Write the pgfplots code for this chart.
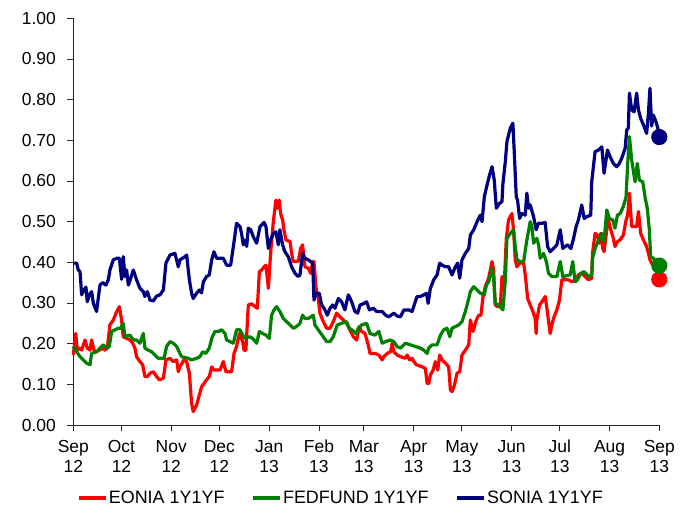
\documentclass[border=0pt]{standalone}
\usepackage{pgfplots}
\usepackage{pgfplotstable}
\pgfplotsset{compat=1.18}
\usepackage{fontspec}
\setmainfont{Liberation Sans}
\definecolor{eoniacol}{RGB}{255,0,0}
\definecolor{fedcol}{RGB}{0,128,0}
\definecolor{soniacol}{RGB}{0,0,128}

\pgfplotstableread{
day val
0 0.172
1.5 0.225
2.5 0.184
4.2 0.189
5.2 0.184
7.3 0.209
8.7 0.189
10.4 0.184
11.4 0.209
12.9 0.184
14.1 0.180
16.2 0.184
18.7 0.189
19.7 0.184
21.2 0.189
22.8 0.246
24.9 0.258
26.6 0.275
28.7 0.291
30.1 0.258
31.1 0.217
33.2 0.213
35.3 0.209
37.0 0.201
38.4 0.189
39.4 0.168
41.5 0.156
43.2 0.148
44.6 0.119
46.1 0.119
47.8 0.127
49.8 0.131
51.9 0.119
53.6 0.111
56.1 0.115
57.7 0.160
60.2 0.164
62.3 0.156
64.4 0.160
65.4 0.131
66.4 0.143
68.9 0.160
70.6 0.156
72.3 0.127
73.7 0.053
74.7 0.033
76.8 0.049
78.5 0.074
79.9 0.094
81.4 0.102
83.0 0.111
84.7 0.119
86.2 0.143
87.6 0.135
91.4 0.135
93.4 0.156
95.1 0.131
98.6 0.131
100.1 0.176
101.7 0.193
103.4 0.225
105.5 0.205
106.3 0.184
107.5 0.184
109.0 0.295
111.1 0.298
113.2 0.291
114.6 0.287
115.9 0.377
117.3 0.381
118.8 0.389
120.0 0.393
121.5 0.336
122.9 0.422
124.6 0.500
126.2 0.553
127.1 0.533
128.3 0.553
129.1 0.520
130.4 0.504
131.2 0.480
132.5 0.455
135.0 0.451
136.0 0.422
137.0 0.402
140.1 0.402
141.6 0.434
142.8 0.443
144.3 0.389
146.4 0.385
147.8 0.373
149.1 0.402
149.9 0.402
151.1 0.340
152.6 0.311
153.6 0.275
155.7 0.254
157.8 0.238
159.9 0.238
161.9 0.254
164.0 0.275
166.1 0.266
168.2 0.258
170.2 0.250
172.3 0.234
174.4 0.217
176.5 0.209
178.1 0.242
179.6 0.230
181.7 0.225
183.7 0.197
184.8 0.176
187.9 0.176
190.3 0.172
192.4 0.160
193.4 0.168
195.5 0.176
197.6 0.180
198.6 0.201
199.6 0.180
201.7 0.172
203.8 0.168
206.9 0.164
207.9 0.172
209.6 0.160
211.0 0.164
212.1 0.156
213.7 0.148
217.3 0.143
219.3 0.139
220.4 0.102
221.4 0.102
222.4 0.123
224.1 0.135
225.5 0.156
227.0 0.135
228.2 0.172
229.7 0.160
231.8 0.152
233.8 0.143
234.9 0.086
235.9 0.082
237.4 0.098
239.0 0.127
240.7 0.131
242.1 0.172
244.2 0.184
246.3 0.197
247.3 0.258
249.0 0.230
251.0 0.258
252.5 0.270
253.9 0.270
255.2 0.316
256.6 0.340
258.7 0.361
260.8 0.402
261.8 0.381
262.8 0.295
264.3 0.291
266.0 0.291
267.0 0.365
268.4 0.344
269.7 0.459
271.1 0.504
273.2 0.520
274.2 0.480
275.3 0.406
276.3 0.389
278.0 0.398
280.5 0.398
281.5 0.369
283.0 0.311
284.6 0.295
286.3 0.279
287.7 0.262
288.3 0.225
288.7 0.258
290.4 0.295
291.9 0.303
293.9 0.316
295.0 0.287
297.0 0.225
298.1 0.246
299.1 0.262
301.2 0.283
302.8 0.307
304.3 0.357
308.4 0.357
310.5 0.352
312.6 0.357
314.6 0.369
316.7 0.373
318.8 0.365
320.9 0.357
322.9 0.361
323.4 0.422
325.0 0.471
326.5 0.467
327.7 0.447
328.5 0.471
329.8 0.434
330.6 0.426
332.3 0.480
333.3 0.504
334.8 0.480
336.4 0.459
337.4 0.439
338.9 0.451
340.6 0.455
342.6 0.467
344.3 0.504
345.3 0.516
346.4 0.570
347.8 0.488
350.9 0.488
352.0 0.525
353.4 0.471
355.1 0.455
357.1 0.439
358.2 0.422
359.2 0.406
360.9 0.393
362.3 0.389
364.4 0.373
365.0 0.358
}\eonia

\pgfplotstableread{
day val
0 0.193
2.1 0.180
4.2 0.168
6.2 0.160
8.3 0.152
10.4 0.148
11.4 0.176
14.5 0.180
16.6 0.189
18.7 0.197
20.8 0.189
22.4 0.193
23.9 0.230
26.0 0.234
28.0 0.238
29.5 0.238
31.1 0.250
32.2 0.217
35.3 0.221
37.4 0.209
39.4 0.209
41.5 0.201
43.6 0.225
44.6 0.189
46.7 0.184
48.8 0.180
50.9 0.172
52.9 0.164
56.5 0.164
58.1 0.193
60.2 0.205
62.3 0.201
64.4 0.193
66.4 0.176
67.5 0.168
71.6 0.164
73.7 0.160
76.8 0.164
78.9 0.168
80.6 0.180
82.6 0.176
84.7 0.189
86.2 0.213
88.2 0.230
90.3 0.230
92.4 0.234
94.5 0.225
95.5 0.209
97.6 0.205
99.7 0.201
101.7 0.234
103.8 0.234
105.5 0.221
106.9 0.213
110.0 0.217
111.7 0.213
114.2 0.201
115.9 0.230
117.9 0.225
120.0 0.221
122.1 0.213
123.5 0.270
125.0 0.283
126.6 0.291
128.7 0.279
130.8 0.262
132.9 0.254
135.0 0.246
137.0 0.238
139.1 0.242
141.2 0.250
142.8 0.270
144.3 0.262
146.4 0.262
149.5 0.270
150.5 0.246
152.6 0.234
155.7 0.217
157.8 0.205
159.9 0.205
161.9 0.217
164.4 0.246
167.1 0.250
170.2 0.254
171.9 0.238
173.4 0.234
176.1 0.225
177.5 0.238
179.6 0.246
182.7 0.250
183.7 0.238
184.8 0.225
187.9 0.221
190.3 0.230
192.4 0.201
194.5 0.205
197.6 0.209
199.6 0.205
201.7 0.193
203.8 0.189
206.9 0.201
210.0 0.197
213.1 0.193
216.2 0.189
218.3 0.184
220.4 0.176
221.4 0.189
223.5 0.197
226.6 0.197
228.7 0.221
230.7 0.234
232.8 0.238
234.5 0.217
235.9 0.238
238.0 0.242
240.1 0.246
242.1 0.254
244.2 0.279
246.3 0.311
247.3 0.328
249.4 0.340
251.5 0.332
253.5 0.324
256.0 0.320
257.3 0.344
258.7 0.352
260.8 0.385
261.8 0.361
262.8 0.299
264.9 0.295
267.6 0.283
269.1 0.357
270.1 0.459
272.2 0.471
274.2 0.480
275.3 0.439
276.3 0.406
278.4 0.402
280.5 0.402
282.5 0.455
284.6 0.500
285.6 0.488
286.7 0.447
288.7 0.459
289.8 0.443
290.8 0.410
292.9 0.422
294.6 0.402
296.0 0.373
298.1 0.365
301.2 0.365
303.3 0.402
304.9 0.365
309.5 0.369
311.1 0.402
312.6 0.352
314.0 0.357
316.1 0.373
318.2 0.377
320.9 0.365
322.9 0.369
323.4 0.410
325.0 0.434
327.1 0.455
329.2 0.471
330.6 0.451
332.3 0.529
333.9 0.508
336.0 0.504
337.4 0.484
338.9 0.516
340.6 0.520
342.6 0.537
344.3 0.561
345.3 0.643
346.4 0.709
347.8 0.652
349.9 0.598
351.3 0.643
352.6 0.602
354.7 0.598
356.1 0.561
357.5 0.533
358.8 0.480
359.6 0.414
361.3 0.410
363.3 0.398
365.0 0.392
}\fedfund

\pgfplotstableread{
day val
0 0.398
2.1 0.398
3.1 0.381
4.2 0.377
5.2 0.320
6.6 0.332
7.9 0.339
8.7 0.303
10.0 0.320
11.4 0.328
12.5 0.299
14.5 0.279
16.6 0.344
18.3 0.350
20.3 0.344
21.8 0.357
22.8 0.381
24.9 0.406
27.0 0.410
28.7 0.410
30.1 0.358
31.1 0.414
32.2 0.365
33.2 0.381
34.3 0.344
35.3 0.355
37.4 0.381
39.4 0.357
41.5 0.336
43.6 0.328
44.6 0.316
46.1 0.328
47.8 0.307
49.8 0.305
51.9 0.317
54.0 0.320
56.1 0.332
57.7 0.398
60.2 0.418
63.3 0.422
65.4 0.389
66.4 0.406
69.6 0.414
70.6 0.418
72.3 0.357
73.7 0.324
74.7 0.311
76.8 0.324
78.5 0.332
79.9 0.325
81.0 0.352
83.0 0.365
84.7 0.369
86.2 0.406
87.6 0.426
89.3 0.410
93.4 0.410
95.5 0.393
98.0 0.393
99.7 0.439
101.7 0.496
103.8 0.488
104.8 0.471
105.9 0.443
106.9 0.455
108.0 0.439
109.0 0.484
110.5 0.480
112.1 0.463
114.2 0.447
116.3 0.488
118.8 0.498
120.0 0.488
121.5 0.434
122.9 0.455
124.6 0.471
126.2 0.475
127.7 0.443
128.7 0.480
130.4 0.443
131.8 0.426
133.9 0.414
136.0 0.389
138.1 0.373
140.1 0.365
141.2 0.369
142.8 0.422
144.3 0.410
146.4 0.406
149.1 0.398
149.9 0.307
151.1 0.324
153.2 0.324
154.7 0.295
156.8 0.283
158.2 0.270
159.9 0.287
161.5 0.295
163.0 0.287
165.1 0.311
167.1 0.303
169.2 0.283
171.3 0.320
173.4 0.303
175.4 0.279
177.1 0.275
178.6 0.295
180.6 0.298
182.7 0.303
184.4 0.283
186.9 0.287
188.9 0.279
191.0 0.279
192.4 0.279
194.5 0.270
196.5 0.266
199.6 0.275
201.7 0.268
203.8 0.266
205.9 0.283
209.0 0.283
211.0 0.279
214.1 0.316
216.2 0.316
218.3 0.320
220.0 0.324
221.0 0.299
222.4 0.336
224.5 0.357
226.6 0.369
228.2 0.398
229.7 0.393
231.8 0.389
233.8 0.389
235.9 0.369
238.0 0.389
239.4 0.398
240.7 0.361
242.1 0.406
244.2 0.422
246.3 0.434
247.3 0.467
249.4 0.480
251.5 0.500
253.5 0.516
254.6 0.500
256.0 0.561
257.7 0.590
259.3 0.615
260.8 0.635
262.2 0.602
263.5 0.533
265.5 0.545
267.0 0.549
267.6 0.594
269.1 0.648
270.1 0.697
272.2 0.730
273.8 0.742
274.7 0.668
275.9 0.561
276.7 0.553
278.0 0.508
279.4 0.520
281.5 0.516
282.5 0.570
283.6 0.533
284.6 0.541
286.7 0.512
288.3 0.480
289.8 0.496
291.9 0.496
293.9 0.498
295.4 0.439
297.0 0.426
299.1 0.434
301.2 0.443
303.3 0.480
304.9 0.434
306.4 0.439
307.8 0.443
309.9 0.434
311.5 0.457
313.2 0.488
314.6 0.504
316.7 0.541
318.2 0.508
319.8 0.512
322.3 0.516
322.9 0.598
325.0 0.672
327.1 0.676
329.2 0.684
330.6 0.619
332.7 0.676
334.3 0.660
336.4 0.643
338.5 0.635
340.1 0.643
341.6 0.656
343.7 0.680
344.7 0.725
345.7 0.730
346.4 0.816
347.8 0.775
349.3 0.770
350.9 0.816
352.0 0.775
353.4 0.754
355.1 0.738
357.1 0.717
358.2 0.766
359.2 0.828
360.2 0.735
361.3 0.762
362.9 0.746
364.4 0.725
365.0 0.708
}\sonia

\begin{document}
\begin{tikzpicture}
\useasboundingbox (0bp,0bp) rectangle (681bp,510bp);
\begin{axis}[
  at={(73.3bp,85bp)}, anchor=south west,
  width=586bp, height=406.7bp, scale only axis,
  xmin=0, xmax=365, ymin=0, ymax=1,
  clip=false,
  axis lines=left,
  axis line style={-, draw=black!85, line width=0.8bp},
  tick style={draw=black!85, line width=0.8bp},
  tick align=outside,
  major tick length=6bp,
  ytick={0,0.1,0.2,0.3,0.4,0.5,0.6,0.7,0.8,0.9,1},
  yticklabel style={/pgf/number format/fixed, /pgf/number format/fixed zerofill, /pgf/number format/precision=2, /pgf/number format/assume math mode=true, xshift=-8bp},
  xtick={0,30,61,91,122,153,181,212,242,273,303,334,365},
  xticklabels={{\strut Sep\\\strut 12},{\strut Oct\\\strut 12},{\strut Nov\\\strut 12},{\strut Dec\\\strut 12},{\strut Jan\\\strut 13},{\strut Feb\\\strut 13},{\strut Mar\\\strut 13},{\strut Apr\\\strut 13},{\strut May\\\strut 13},{\strut Jun\\\strut 13},{\strut Jul\\\strut 13},{\strut Aug\\\strut 13},{\strut Sep\\\strut 13}},
  xticklabel style={align=center, inner sep=0bp, yshift=-7bp},
  tick label style={font=\fontsize{17.5}{20}\selectfont},
  legend style={at={(0.456,-0.180)}, anchor=center, draw=none, legend columns=3,
    font=\fontsize{18}{20}\selectfont,
    nodes={inner sep=1bp},
    /tikz/every even column/.append style={column sep=26bp}},
  legend image code/.code={\draw[#1, line width=3.6bp] (0bp,0bp) -- (27bp,0bp);},
  every axis plot/.append style={line width=3.2bp, line join=round},
]
\addplot[color=eoniacol, mark=none] table[x=day,y=val] {\eonia};
\addlegendentry{EONIA 1Y1YF}
\addplot[color=fedcol, mark=none] table[x=day,y=val] {\fedfund};
\addlegendentry{FEDFUND 1Y1YF}
\addplot[color=soniacol, mark=none] table[x=day,y=val] {\sonia};
\addlegendentry{SONIA 1Y1YF}
\addplot[only marks, mark=*, mark size=6.5bp, color=eoniacol, forget plot] coordinates {(365,0.358)};
\addplot[only marks, mark=*, mark size=6.5bp, color=fedcol, forget plot] coordinates {(365,0.392)};
\addplot[only marks, mark=*, mark size=6.5bp, color=soniacol, forget plot] coordinates {(365,0.708)};
\end{axis}
\end{tikzpicture}
\end{document}
